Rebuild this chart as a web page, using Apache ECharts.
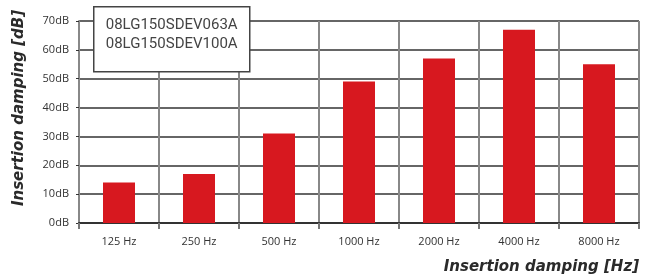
<!DOCTYPE html>
<html>
<head>
<meta charset="utf-8">
<script src="https://cdn.jsdelivr.net/npm/echarts@6/dist/echarts.min.js"></script>
<style>
  html, body { margin: 0; padding: 0; background: #fff; }
  #chart { width: 651px; height: 277px; }
</style>
</head>
<body>
<div id="chart"></div>
<script>
// frequency bands and insertion damping values
var bands = ['125 Hz', '250 Hz', '500 Hz', '1000 Hz', '2000 Hz', '4000 Hz', '8000 Hz'];
var damping = [14, 17, 31, 49, 57, 67, 55];
var models = ['08LG150SDEV063A', '08LG150SDEV100A'];

var chart = echarts.init(document.getElementById('chart'));

var nameStyle = {
    fontFamily: 'DejaVu Sans',
    fontSize: 15,
    fontWeight: 'bold',
    fontStyle: 'italic',
    color: '#2a2a2a'
};

var option = {
    animation: false,
    grid: {
        left: 79,
        right: 12,
        top: 21,
        bottom: 54
    },
    xAxis: {
        type: 'category',
        data: bands,
        name: 'Insertion damping [Hz]',
        nameLocation: 'end',
        nameGap: 0,
        nameTextStyle: Object.assign({}, nameStyle, {
            align: 'right',
            verticalAlign: 'top',
            padding: [37, 0, 0, 0]
        }),
        axisLine: {
            lineStyle: { color: '#333', width: 2 }
        },
        axisTick: {
            show: true,
            length: 6,
            lineStyle: { color: '#777', width: 2 }
        },
        axisLabel: {
            fontFamily: 'Open Sans',
            fontSize: 11,
            color: '#333',
            margin: 13
        },
        splitLine: {
            show: true,
            lineStyle: { color: '#888', width: 2 }
        }
    },
    yAxis: {
        type: 'value',
        min: 0,
        max: 70,
        interval: 10,
        name: 'Insertion damping [dB]',
        nameLocation: 'middle',
        nameGap: 52,
        nameTextStyle: Object.assign({}, nameStyle, {
            padding: [0, 0, 0, 28]
        }),
        axisLine: {
            show: true,
            lineStyle: { color: '#888', width: 2 }
        },
        axisTick: {
            show: true,
            length: 3,
            lineStyle: { color: '#333' }
        },
        axisLabel: {
            fontFamily: 'Open Sans',
            fontSize: 11,
            color: '#333',
            margin: 10,
            formatter: '{value}dB'
        },
        splitLine: {
            lineStyle: { color: '#333', width: 1.5 }
        }
    },
    series: [{
        type: 'bar',
        data: damping,
        barWidth: '40%',
        itemStyle: {
            color: '#d7181f'
        }
    }],
    graphic: [{
        type: 'group',
        left: 93,
        top: 6,
        z: 100,
        children: [{
            type: 'rect',
            z: 100,
            shape: { x: 0, y: 0, width: 156, height: 65 },
            style: { fill: '#fff', stroke: '#444', lineWidth: 1.5 }
        }, {
            type: 'text',
            z: 101,
            x: 12,
            y: 9,
            style: {
                text: models.join('\n'),
                font: '15px Roboto',
                lineHeight: 19,
                fill: '#444'
            }
        }]
    }]
};

chart.setOption(option);
</script>
</body>
</html>
